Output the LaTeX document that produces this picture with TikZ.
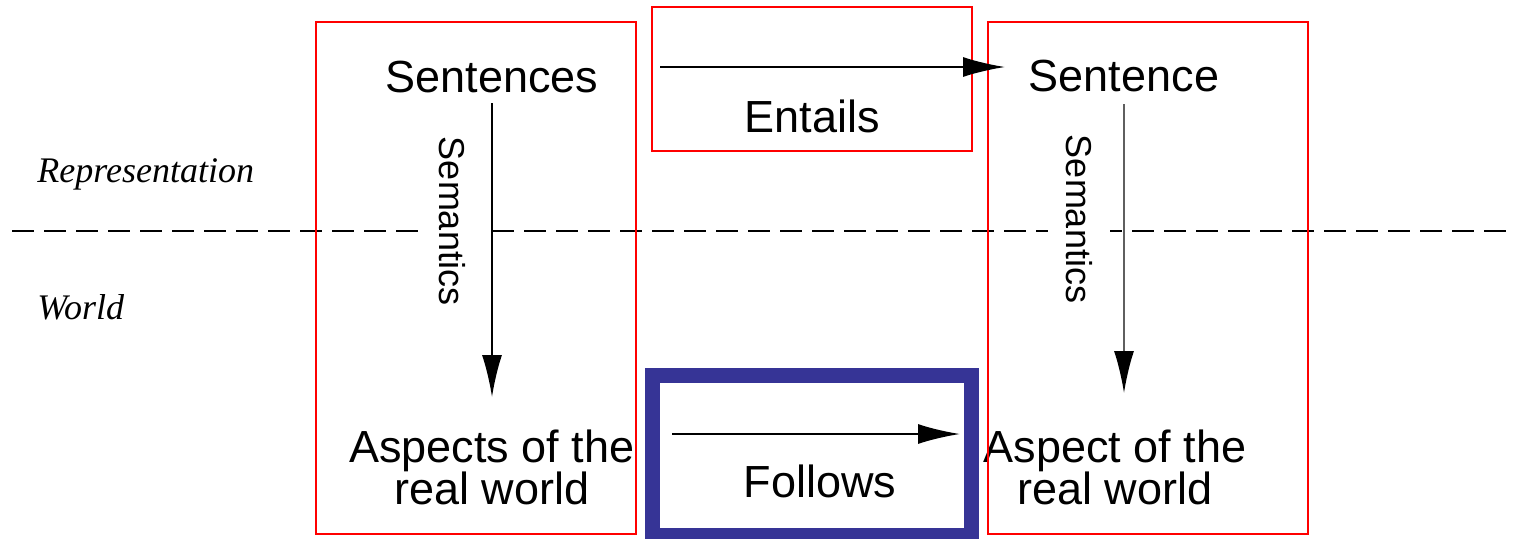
\documentclass[tikz,border=0pt]{standalone}
\usepackage{fontspec}
\setmainfont{Liberation Sans}
\newfontfamily\serifit{Liberation Serif}
\usetikzlibrary{arrows.meta}
\usetikzlibrary{positioning}
\definecolor{mblue}{RGB}{54, 52, 150}
\definecolor{mgray}{RGB}{95, 95, 95}
\tikzset{word/.style = {font=\fontsize{22.5}{21}\selectfont, inner sep=0, align=center}}
\tikzset{semlabel/.style = {font=\fontsize{18}{20}\selectfont, rotate=-90, fill=white, inner xsep=1pt, inner ysep=9pt}}
\tikzset{sidelabel/.style = {font=\serifit\itshape\fontsize{18}{20}\selectfont, inner sep=0, anchor=west}}
\tikzset{redbox/.style = {draw=red, line width=1pt}}
\tikzset{arr/.style = {line width=1pt, -{Latex[length=21pt, width=10pt]}}}

\begin{document}
\begin{tikzpicture}[x=0.5pt, y=-0.5pt]
    \useasboundingbox (0, 0) rectangle (1516, 538);

    \draw [line width=1pt, dash pattern=on 11pt off 5pt] (12, 231) -- (1516, 231);

    \node [sidelabel] (rep) at (37, 174) {Representation};
    \node [sidelabel] (world) at (37, 307) {World};

    \node [semlabel] (sem1) at (452, 221) {Semantics};
    \node [semlabel] (sem2) at (1079, 219) {Semantics};

    \node [word] (sent1) at (492, 77) {Sentences};
    \node [word] (ent) at (812, 116) {Entails};
    \node [word] (sent2) at (1124, 76) {Sentence};
    \node [word] (asp1) at (492, 467) {Aspects of the\\real world};
    \node [word] (fol) at (820, 481) {Follows};
    \node [word] (asp2) at (1115, 467) {Aspect of the\\real world};

    \coordinate (entA) at (660, 67);
    \coordinate (entB) at (1005, 67);
    \coordinate (folA) at (672, 434);
    \coordinate (folB) at (960, 434);

    \draw [redbox] (316, 22) rectangle (636, 534);
    \draw [redbox] (652, 7) rectangle (972, 151);
    \draw [redbox] (988, 22) rectangle (1308, 534);
    \draw [draw=mblue, line width=7.5pt] (652, 375) rectangle (971, 535);

    \draw [arr] (entA) -- (entB);
    \draw [arr] (folA) -- (folB);
    \draw [arr, shorten <=5pt, shorten >=16pt] (sent1.south) -- (asp1.north);
    \draw [arr, mgray, -{Latex[length=21pt, width=10pt, black]}, shorten <=6pt, shorten >=18pt]
        (sent2.south) -- (sent2.south |- asp2.north);
  \end{tikzpicture}
\end{document}
